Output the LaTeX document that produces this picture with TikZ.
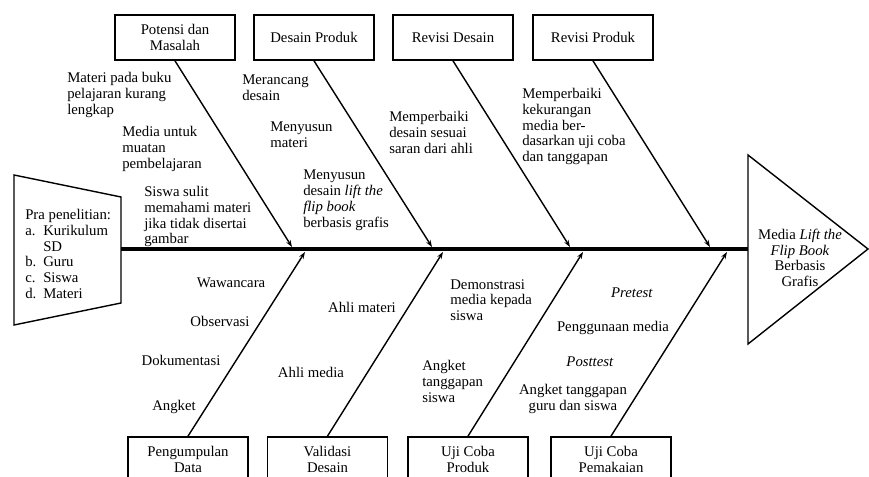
\documentclass[tikz,border=0pt]{standalone}
\usepackage{fontspec}
\setmainfont{Liberation Serif}
\usetikzlibrary{arrows.meta}
\usetikzlibrary{positioning}

\begin{document}
\begin{tikzpicture}[x=0.025cm, y=-0.025cm,
		every node/.style={font=\fontsize{10.5}{11.2}\selectfont},
		tahap/.style={draw, line width=1.2pt, minimum width=3cm, minimum height=1.125cm, align=center, inner sep=0pt},
		ket/.style={align=left, anchor=north west, inner sep=0pt},
		ketc/.style={align=center, inner sep=0pt},
		tulang/.style={line width=1pt, -{Stealth[length=5pt, width=3.5pt]}},
		duri/.style={line width=2.4pt}]
		\useasboundingbox (0,0) rectangle (869,477);
		\clip (0,0) rectangle (869,477);

		% ekor dan kepala
		\draw[line width=1pt] (14,175) -- (121,197) -- (121,303) -- (14,325) -- cycle;
		\coordinate (ekor) at (121,249);
		\node[ket] (pra) at (25,209) {Pra penelitian:\\\makebox[12.8pt][l]{a.}Kurikulum\\\makebox[12.8pt][l]{}SD\\\makebox[12.8pt][l]{b.}Guru\\\makebox[12.8pt][l]{c.}Siswa\\\makebox[12.8pt][l]{d.}Materi};
		\draw[line width=1pt] (748,155) -- (868,249) -- (748,344) -- cycle;
		\coordinate (kepala) at (748,249);
		\node[ketc] (hasil) at (800,258) {Media \textit{Lift the}\\\textit{Flip Book}\\Berbasis\\Grafis};
		\draw[duri] (ekor) -- (kepala);

		% tahap atas
		\node[tahap] (potensi) at (175,37.5) {Potensi dan\\Masalah};
		\node[tahap] (desain) at (314,37.5) {Desain Produk};
		\node[tahap] (revdesain) at (453,37.5) {Revisi Desain};
		\node[tahap] (revproduk) at (593,37.5) {Revisi Produk};
		\coordinate (a1) at (292,247); \coordinate (a2) at (432,247);
		\coordinate (a3) at (570,247); \coordinate (a4) at (710,247);
		\draw[tulang] (potensi.south) -- (a1);
		\draw[tulang] (desain.south) -- (a2);
		\draw[tulang] (revdesain.south) -- (a3);
		\draw[tulang] (revproduk.south) -- (a4);

		% tahap bawah
		\node[tahap] (kumpul) at (188,459.5) {Pengumpulan\\Data};
		\node[tahap] (validasi) at (327.5,459.5) {Validasi\\Desain};
		\node[tahap] (ujiproduk) at (468,459.5) {Uji Coba\\Produk};
		\node[tahap] (ujipakai) at (611,459.5) {Uji Coba\\Pemakaian};
		\coordinate (b1) at (305,252); \coordinate (b2) at (443,252);
		\coordinate (b3) at (583,252); \coordinate (b4) at (727,252);
		\draw[tulang] (kumpul.north) -- (b1);
		\draw[tulang] (validasi.north) -- (b2);
		\draw[tulang] (ujiproduk.north) -- (b3);
		\draw[tulang] (ujipakai.north) -- (b4);

		% keterangan atas
		\node[ket] (bukukurang) at (67,72) {Materi pada buku\\pelajaran kurang\\lengkap};
		\node[ket] (muatan) at (122,126) {Media untuk\\muatan\\pembelajaran};
		\node[ket] (sulit) at (144,186) {Siswa sulit\\memahami materi\\jika tidak disertai\\gambar};
		\node[ket] (rancang) at (242,75) {Merancang\\desain};
		\node[ket] (susunmateri) at (270,122) {Menyusun\\materi};
		\node[ket] (susundesain) at (303,170) {Menyusun\\desain \textit{lift the}\\\textit{flip book}\\berbasis grafis};
		\node[ket] (saranahli) at (389,111) {Memperbaiki\\desain sesuai\\saran dari ahli};
		\node[ket] (kekurangan) at (522,88) {Memperbaiki\\kekurangan\\media ber-\\dasarkan uji coba\\dan tanggapan};

		% keterangan bawah
		\node[ketc] (wawancara) at (231,283) {Wawancara};
		\node[ketc] (observasi) at (220,321) {Observasi};
		\node[ketc] (dokumentasi) at (181,360) {Dokumentasi};
		\node[ketc] (angket) at (174,407) {Angket};
		\node[ketc] (ahlimateri) at (362,307) {Ahli materi};
		\node[ketc] (ahlimedia) at (311,372) {Ahli media};
		\node[ket] (demo) at (450,279) {Demonstrasi\\media kepada\\siswa};
		\node[ket] (angketsiswa) at (422,360) {Angket\\tanggapan\\siswa};
		\node[ketc] (pretest) at (632,293) {\textit{Pretest}};
		\node[ketc] (penggunaan) at (613,328) {Penggunaan media};
		\node[ketc] (posttest) at (590,362) {\textit{Posttest}};
		\node[ketc] (angketguru) at (573,399) {Angket tanggapan\\guru dan siswa};
	\end{tikzpicture}
\end{document}
